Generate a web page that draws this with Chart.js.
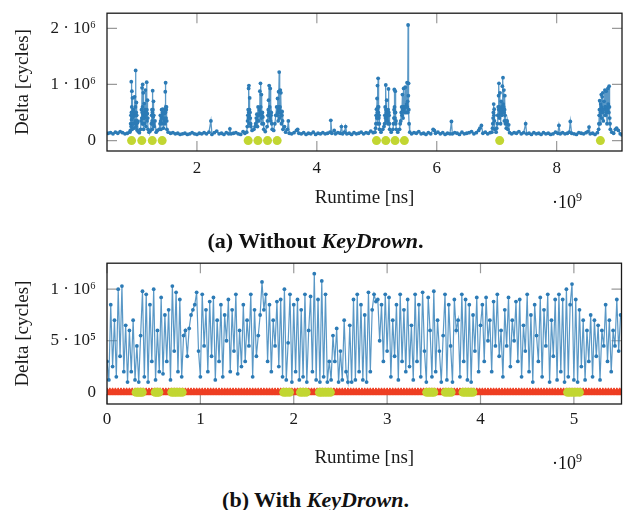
<!DOCTYPE html>
<html><head><meta charset="utf-8">
<script src="https://cdn.jsdelivr.net/npm/chart.js@4.4.1/dist/chart.umd.min.js"></script>
<style>
html,body{margin:0;padding:0;background:#fff;}
#wrap{position:relative;width:627px;height:510px;overflow:hidden;font-family:"Liberation Serif",serif;color:#111;}
canvas{position:absolute;left:0;}
.mult{position:absolute;font-size:18px;line-height:20px;white-space:nowrap;}
.mult span{font-size:12px;position:relative;top:-7px;}
.cap{position:absolute;left:2px;width:627px;text-align:center;font-weight:bold;font-size:22px;line-height:26px;white-space:nowrap;}
</style></head><body>
<div id="wrap">
<canvas id="ca" width="627" height="215" style="top:0;width:627px;height:215px"></canvas>
<canvas id="cb" width="627" height="225" style="top:250px;width:627px;height:225px"></canvas>
<div class="mult" style="left:552px;top:192px">·10<span>9</span></div>
<div class="mult" style="left:552px;top:453px">·10<span>9</span></div>
<div class="cap" style="top:228px">(a) Without <i>KeyDrown</i>.</div>
<div class="cap" style="top:487px">(b) With <i>KeyDrown</i>.</div>
</div>
<script>
// ---------- Data (x: runtime in 10^9 ns, y: delta in 10^6 cycles) ----------
// (a) Without KeyDrown
const runtimeA = [
 0.52,0.56,0.60,0.64,0.68,0.72,0.76,0.80,0.84,0.88,
 // burst group 1
 0.890,0.895,0.900,0.903,0.905,0.908,0.910,0.913,0.915,0.918,
 0.920,0.923,0.925,0.928,0.930,0.935,0.940,0.945,0.950,0.955,
 0.960,0.965,0.970,0.974,0.978,0.981,0.983,0.987,0.990,0.993,
 0.995,1.000,1.005,1.010,1.020,1.040,1.060,1.068,1.075,1.080,
 1.085,1.088,1.090,1.093,1.095,1.098,1.100,1.103,1.105,1.108,
 1.110,1.115,1.120,1.125,1.130,1.135,1.140,1.145,1.150,1.156,
 1.162,1.165,1.168,1.172,1.175,1.180,1.185,1.200,1.220,1.240,
 1.245,1.250,1.253,1.255,1.258,1.262,1.266,1.270,1.273,1.275,
 1.280,1.285,1.300,1.320,1.340,1.370,1.385,1.390,1.395,1.400,
 1.405,1.410,1.415,1.420,1.425,1.430,1.435,1.440,1.448,1.455,
 1.460,1.465,1.468,1.472,1.475,1.478,1.482,1.485,1.488,1.492,
 1.496,1.500,1.520,
 // quiet
 1.56,1.60,1.64,1.68,1.72,1.76,1.80,1.84,1.88,1.92,
 1.96,2.00,2.04,2.08,2.12,2.16,2.20,2.233,2.25,2.29,
 2.33,2.37,2.41,2.45,2.49,2.53,2.55,2.57,2.61,2.65,
 2.69,2.73,2.77,2.80,
 // burst group 2
 2.830,2.840,2.845,2.850,2.855,2.858,2.862,2.865,2.867,2.870,
 2.872,2.876,2.880,2.885,2.890,2.895,2.900,2.920,2.950,2.970,
 2.980,2.990,3.000,3.005,3.010,3.015,3.020,3.028,3.035,3.042,
 3.050,3.055,3.060,3.064,3.067,3.071,3.075,3.080,3.085,3.092,
 3.100,3.108,3.115,3.140,3.170,3.178,3.185,3.190,3.195,3.200,
 3.205,3.210,3.215,3.218,3.222,3.226,3.230,3.235,3.240,3.248,
 3.255,3.280,3.300,3.315,3.330,3.338,3.345,3.350,3.355,3.358,
 3.362,3.366,3.372,3.376,3.380,3.385,3.390,3.395,3.400,3.405,
 3.410,3.415,3.420,3.428,3.435,3.460,3.480,3.510,3.525,3.540,
 // quiet
 3.58,3.62,3.66,3.68,3.70,3.74,3.78,3.82,3.86,3.90,
 3.94,3.98,4.02,4.06,4.10,4.14,4.18,4.22,4.233,4.25,
 4.29,4.31,4.35,4.39,4.41,4.43,4.46,4.48,4.50,4.54,
 4.58,4.62,4.66,4.70,4.74,4.78,4.82,4.86,4.90,4.94,
 // burst group 3
 4.970,4.980,4.985,4.990,4.995,5.000,5.005,5.008,5.012,5.015,
 5.018,5.020,5.022,5.026,5.030,5.034,5.038,5.042,5.045,5.070,
 5.100,5.120,5.130,5.135,5.140,5.145,5.150,5.154,5.158,5.162,
 5.165,5.170,5.175,5.180,5.185,5.190,5.195,5.200,5.205,5.210,
 5.215,5.240,5.270,5.278,5.285,5.288,5.292,5.296,5.300,5.304,
 5.308,5.312,5.315,5.320,5.325,5.350,5.380,5.390,5.400,5.408,
 5.415,5.420,5.428,5.433,5.438,5.443,5.448,5.454,5.460,5.467,
 5.475,5.482,5.490,5.497,5.505,5.510,5.515,5.518,5.522,5.526,
 5.530,5.534,5.538,5.550,
 // quiet
 5.58,5.62,5.66,5.70,5.74,5.78,5.82,5.86,5.90,5.94,
 5.96,5.98,6.02,6.06,6.10,6.14,6.18,6.22,6.245,6.26,
 6.30,6.34,6.38,6.42,6.46,6.50,6.54,6.58,6.62,6.66,
 6.70,6.72,6.745,6.77,6.81,6.85,6.89,
 // burst group 4
 6.920,6.930,6.935,6.940,6.945,6.950,6.954,6.958,6.962,6.965,
 6.990,7.000,7.010,7.018,7.025,7.028,7.032,7.035,7.038,7.041,
 7.045,7.050,7.055,7.060,7.065,7.070,7.075,7.080,7.085,7.090,
 7.095,7.100,7.105,7.108,7.112,7.116,7.120,7.124,7.128,7.132,
 7.135,7.140,7.145,7.152,7.160,7.168,7.175,7.185,7.200,7.215,
 // quiet
 7.25,7.29,7.33,7.37,7.41,7.45,7.483,7.50,7.54,7.58,
 7.62,7.66,7.70,7.74,7.78,7.82,7.86,7.90,7.94,7.98,
 8.02,8.038,8.06,8.10,8.14,8.18,8.21,8.228,8.25,8.29,
 8.33,8.37,8.41,8.45,8.49,8.52,8.54,8.56,8.60,8.64,
 8.68,
 // burst group 5
 8.700,8.705,8.710,8.714,8.718,8.722,8.725,8.730,8.735,8.740,
 8.745,8.748,8.752,8.756,8.760,8.765,8.770,8.774,8.778,8.784,
 8.790,8.798,8.805,8.808,8.812,8.818,8.825,8.832,8.840,8.848,
 8.855,8.860,8.865,8.870,8.875,8.880,8.885,8.890,8.895,8.92,
 8.95,8.98,9.00,9.03,9.06,9.09
];
const deltaA = [
 0.13,0.14,0.12,0.15,0.13,0.16,0.14,0.12,0.13,0.15,
 // burst group 1
 0.18,0.30,0.45,0.25,1.05,0.50,0.37,0.60,0.88,0.40,
 0.20,0.50,0.76,0.45,0.30,0.42,0.55,0.30,0.22,0.45,
 0.78,0.50,0.35,0.60,1.25,0.45,0.25,0.50,0.68,0.30,
 0.45,0.19,0.35,0.32,0.16,0.14,0.20,0.35,0.55,0.40,
 0.94,0.50,0.30,0.60,1.00,0.40,0.48,0.30,0.85,0.45,
 0.20,0.50,0.66,0.40,0.30,0.55,0.90,0.45,0.25,0.50,
 1.04,0.55,0.35,0.48,0.72,0.40,0.20,0.15,0.17,0.30,
 0.45,0.55,0.35,0.20,0.50,0.89,0.55,0.42,0.30,0.70,
 0.45,0.25,0.35,0.15,0.18,0.20,0.30,0.45,0.35,0.20,
 0.40,0.55,0.45,0.30,0.50,0.56,0.40,0.22,0.40,0.48,
 0.35,0.30,0.55,0.87,0.50,1.03,0.60,0.40,0.55,0.60,
 0.35,0.20,0.15,
 // quiet
 0.13,0.14,0.12,0.13,0.11,0.12,0.13,0.11,0.12,0.14,
 0.12,0.11,0.13,0.12,0.14,0.12,0.15,0.35,0.11,0.14,
 0.17,0.12,0.13,0.11,0.14,0.12,0.21,0.12,0.13,0.14,
 0.12,0.11,0.16,0.13,
 // burst group 2
 0.15,0.25,0.35,0.45,0.55,0.40,0.93,0.50,0.98,0.45,
 0.30,0.55,0.76,0.50,0.40,0.30,0.25,0.18,0.20,0.25,
 0.30,0.40,0.47,0.35,0.25,0.45,0.60,0.45,0.35,0.55,
 0.88,0.50,1.02,0.60,0.50,0.40,0.82,0.45,0.30,0.50,
 0.42,0.30,0.20,0.16,0.25,0.35,0.45,0.55,0.72,0.50,
 0.98,0.45,0.60,0.40,0.93,0.50,0.35,0.45,0.50,0.30,
 0.20,0.18,0.30,0.45,0.60,0.45,0.75,0.50,0.35,0.55,
 0.87,0.60,1.22,0.55,0.40,0.60,0.90,0.50,0.85,0.45,
 0.30,0.45,0.52,0.35,0.20,0.25,0.15,0.20,0.35,0.13,
 // quiet
 0.12,0.14,0.18,0.20,0.13,0.12,0.14,0.11,0.13,0.12,
 0.15,0.11,0.13,0.12,0.14,0.12,0.13,0.15,0.36,0.13,
 0.18,0.12,0.14,0.13,0.25,0.12,0.15,0.25,0.12,0.13,
 0.11,0.14,0.12,0.13,0.15,0.12,0.14,0.13,0.17,0.14,
 // burst group 3
 0.15,0.22,0.30,0.45,0.56,0.40,0.75,0.50,0.98,0.55,
 0.30,0.60,1.11,0.50,0.60,0.40,0.45,0.30,0.20,0.15,
 0.20,0.25,0.30,0.45,0.60,0.40,0.99,0.55,0.35,0.50,
 0.72,0.40,0.45,0.35,0.30,0.55,0.92,0.50,0.45,0.30,
 0.20,0.15,0.20,0.30,0.40,0.55,0.91,0.60,0.50,0.40,
 0.88,0.50,0.30,0.35,0.20,0.15,0.20,0.30,0.35,0.50,
 0.60,0.45,0.82,0.55,0.40,0.60,0.93,0.55,0.60,0.50,
 0.95,0.60,0.50,0.65,1.03,0.60,0.70,0.50,2.06,0.80,
 1.02,0.55,0.30,0.15,
 // quiet
 0.12,0.14,0.13,0.16,0.12,0.13,0.11,0.14,0.12,0.20,
 0.18,0.13,0.15,0.12,0.14,0.11,0.13,0.12,0.34,0.12,
 0.14,0.13,0.11,0.15,0.12,0.13,0.14,0.16,0.12,0.14,
 0.18,0.22,0.27,0.13,0.15,0.12,0.14,
 // burst group 4
 0.15,0.22,0.30,0.40,0.50,0.65,0.45,0.56,0.35,0.20,
 0.15,0.22,0.30,0.45,0.60,0.45,0.80,0.55,1.02,0.60,
 0.40,0.55,0.85,0.50,0.30,0.50,0.70,0.55,0.45,0.60,
 0.97,0.60,1.12,0.65,0.50,0.60,0.90,0.50,0.35,0.55,
 0.80,0.45,0.30,0.35,0.22,0.30,0.35,0.20,0.28,0.14,
 // quiet
 0.12,0.14,0.13,0.16,0.12,0.14,0.30,0.12,0.13,0.11,
 0.14,0.12,0.13,0.11,0.14,0.12,0.13,0.11,0.12,0.15,
 0.13,0.27,0.12,0.14,0.12,0.13,0.15,0.34,0.13,0.12,
 0.11,0.14,0.13,0.12,0.14,0.16,0.24,0.12,0.13,0.11,
 0.14,
 // burst group 5
 0.20,0.30,0.45,0.55,0.71,0.45,0.30,0.50,0.65,0.55,
 0.82,0.60,0.40,0.55,0.78,0.55,0.85,0.50,0.35,0.55,
 0.70,0.55,0.90,0.60,0.45,0.60,0.88,0.50,0.30,0.55,
 0.93,0.65,0.60,0.50,0.97,0.60,0.40,0.30,0.20,0.15,
 0.13,0.20,0.22,0.18,0.12,0.10
];
// key presses (a)
const keysA = [0.91,1.08,1.255,1.42,2.855,3.017,3.178,3.338,4.995,5.15,5.305,5.46,7.05,8.73];

// (b) With KeyDrown
const runtimeB = [
 0.00,0.02,0.04,0.06,0.08,0.10,0.12,0.14,0.16,0.18,0.20,
 0.22,0.24,0.26,0.28,0.30,0.32,0.34,0.36,0.38,0.40,
 0.42,0.44,0.46,0.48,0.50,0.52,0.54,0.56,0.58,0.60,
 0.62,0.64,0.66,0.68,0.70,0.72,0.74,0.76,0.78,0.80,
 0.82,0.84,0.86,0.88,0.90,0.92,0.94,0.96,0.98,1.00,
 1.02,1.04,1.06,1.08,1.10,1.12,1.14,1.16,1.18,1.20,
 1.22,1.24,1.26,1.28,1.30,1.32,1.34,1.36,1.38,1.40,
 1.42,1.44,1.46,1.48,1.50,1.52,1.54,1.56,1.58,1.60,
 1.62,1.64,1.66,1.68,1.70,1.72,1.74,1.76,1.78,1.80,
 1.82,1.84,1.86,1.88,1.90,1.92,1.94,1.96,1.98,2.00,
 2.02,2.04,2.06,2.08,2.10,2.12,2.14,2.16,2.18,2.20,
 2.22,2.24,2.26,2.28,2.30,2.32,2.34,2.36,2.38,2.40,
 2.42,2.44,2.46,2.48,2.50,2.52,2.54,2.56,2.58,2.60,
 2.62,2.64,2.66,2.68,2.70,2.72,2.74,2.76,2.78,2.80,
 2.82,2.84,2.86,2.88,2.90,2.92,2.94,2.96,2.98,3.00,
 3.02,3.04,3.06,3.08,3.10,3.12,3.14,3.16,3.18,3.20,
 3.22,3.24,3.26,3.28,3.30,3.32,3.34,3.36,3.38,3.40,
 3.42,3.44,3.46,3.48,3.50,3.52,3.54,3.56,3.58,3.60,
 3.62,3.64,3.66,3.68,3.70,3.72,3.74,3.76,3.78,3.80,
 3.82,3.84,3.86,3.88,3.90,3.92,3.94,3.96,3.98,4.00,
 4.02,4.04,4.06,4.08,4.10,4.12,4.14,4.16,4.18,4.20,
 4.22,4.24,4.26,4.28,4.30,4.32,4.34,4.36,4.38,4.40,
 4.42,4.44,4.46,4.48,4.50,4.52,4.54,4.56,4.58,4.60,
 4.62,4.64,4.66,4.68,4.70,4.72,4.74,4.76,4.78,4.80,
 4.82,4.84,4.86,4.88,4.90,4.92,4.94,4.96,4.98,5.00,
 5.02,5.04,5.06,5.08,5.10,5.12,5.14,5.16,5.18,5.20,
 5.22,5.24,5.26,5.28,5.30,5.32,5.34,5.36,5.38,5.40,
 5.42,5.44,5.46,5.48,5.50
];
const deltaB = [
 0.30,0.12,0.85,0.25,0.70,0.15,1.00,0.35,1.03,0.20,0.65,
 0.10,0.60,0.20,0.70,0.12,0.45,0.10,0.55,0.98,0.15,
 0.95,0.10,0.85,0.30,1.00,0.12,0.60,0.20,0.92,0.18,
 0.75,0.30,0.80,0.12,1.03,0.40,0.97,0.20,0.90,0.15,
 0.55,0.60,0.35,0.62,0.75,0.80,0.85,0.97,0.40,0.15,
 0.95,0.45,0.80,0.20,0.88,0.35,0.92,0.12,0.70,0.30,
 0.85,0.15,0.75,0.50,0.90,0.20,0.80,0.40,0.95,0.18,
 0.60,0.25,0.85,0.30,0.70,0.45,0.95,0.15,0.80,0.35,
 0.55,0.75,1.07,0.80,0.95,0.30,0.85,0.20,0.70,0.45,
 0.88,0.25,0.90,0.15,1.00,0.12,0.48,0.95,0.10,0.85,
 0.20,0.90,0.12,0.80,0.15,0.95,0.10,0.60,0.93,0.20,
 1.15,0.12,0.90,0.10,1.08,0.15,0.95,0.10,0.30,0.12,
 0.55,0.30,0.62,0.10,0.40,0.12,0.70,0.20,0.10,0.65,
 0.10,0.90,0.12,0.95,0.20,0.85,0.12,0.75,0.10,0.97,
 0.20,0.80,0.95,0.88,0.90,0.50,0.85,0.30,0.95,0.40,
 0.92,0.15,0.70,0.35,0.85,0.12,0.95,0.30,0.80,0.20,
 0.90,0.25,0.65,0.12,0.95,0.30,0.85,0.15,0.97,0.40,
 0.10,0.92,0.60,0.15,0.98,0.20,0.70,0.40,0.10,0.55,
 0.95,0.12,0.85,0.45,0.10,0.90,0.60,0.70,0.15,0.95,
 0.30,0.90,0.12,0.85,0.10,0.75,0.40,0.92,0.20,0.65,
 0.85,0.30,0.92,0.50,0.70,0.20,0.88,0.45,0.95,0.35,
 0.60,0.15,0.80,0.45,0.92,0.25,0.70,0.50,0.88,0.30,
 0.90,0.15,0.65,0.40,0.95,0.20,0.75,0.10,0.85,0.55,
 0.30,0.92,0.15,0.80,0.45,0.95,0.10,0.70,0.35,0.90,
 0.12,0.95,0.20,0.90,0.10,1.00,0.15,0.85,1.05,0.12,
 0.90,0.10,0.80,0.25,0.70,0.12,0.60,0.30,0.75,0.15,
 0.70,0.35,0.65,0.12,0.60,0.45,0.85,0.30,0.70,0.20,
 0.60,0.45,0.90,0.40,0.75
];
// injected (fake) interrupts, drawn at level 0
const injectedB = [
 0.00,0.03,0.06,0.09,0.12,0.15,0.18,0.21,0.24,0.27,
 0.30,0.33,0.36,0.39,0.42,0.45,0.48,0.51,0.54,0.57,
 0.60,0.63,0.66,0.69,0.72,0.75,0.78,0.81,0.84,0.87,
 0.90,0.93,0.96,0.99,1.02,1.05,1.08,1.11,1.14,1.17,
 1.20,1.23,1.26,1.29,1.32,1.35,1.38,1.41,1.44,1.47,
 1.50,1.53,1.56,1.59,1.62,1.65,1.68,1.71,1.74,1.77,
 1.80,1.83,1.86,1.89,1.92,1.95,1.98,2.01,2.04,2.07,
 2.10,2.13,2.16,2.19,2.22,2.25,2.28,2.31,2.34,2.37,
 2.40,2.43,2.46,2.49,2.52,2.55,2.58,2.61,2.64,2.67,
 2.70,2.73,2.76,2.79,2.82,2.85,2.88,2.91,2.94,2.97,
 3.00,3.03,3.06,3.09,3.12,3.15,3.18,3.21,3.24,3.27,
 3.30,3.33,3.36,3.39,3.42,3.45,3.48,3.51,3.54,3.57,
 3.60,3.63,3.66,3.69,3.72,3.75,3.78,3.81,3.84,3.87,
 3.90,3.93,3.96,3.99,4.02,4.05,4.08,4.11,4.14,4.17,
 4.20,4.23,4.26,4.29,4.32,4.35,4.38,4.41,4.44,4.47,
 4.50,4.53,4.56,4.59,4.62,4.65,4.68,4.71,4.74,4.77,
 4.80,4.83,4.86,4.89,4.92,4.95,4.98,5.01,5.04,5.07,
 5.10,5.13,5.16,5.19,5.22,5.25,5.28,5.31,5.34,5.37,
 5.40,5.43,5.46,5.49,5.51
];
// key presses (b)
const keysB = [
 0.312,0.335,0.355,0.377, 0.516,0.535,0.555, 0.694,0.720,0.745,0.775,0.805,
 1.893,1.920,1.954, 2.072,2.100,2.132, 2.275,2.300,2.330,2.360,2.392,
 3.424,3.450,3.475,3.499, 3.624,3.655,3.685, 3.814,3.840,3.865,3.890,3.917,
 4.933,4.960,4.990,5.020,5.059
];
const markerLevel = 0;

// ticks
const xTicksA = [2,4,6,8];
const yTicksA = [0,1,2];
const yTickLabelsA = ['0','1 · 10⁶','2 · 10⁶'];
const xTicksB = [0,1,2,3,4,5];
const yTicksB = [0,0.5,1];
const yTickLabelsB = ['0','5 · 10⁵','1 · 10⁶'];

// ---------- Styling ----------
const BLUE='#2c7bb6', BLUE_LINE='rgba(44,123,182,0.78)', GREEN='#c2d632', RED='#ee3e22';
const FONT='"Liberation Serif", serif';
Chart.defaults.font.family = FONT;
Chart.defaults.color = '#1a1a1a';

const pairs = (xs, ys) => xs.map((x,i)=>({x, y: ys[i]}));
const level = (xs) => xs.map(x=>({x, y: markerLevel}));

const framePlugin = {
  id:'frame',
  beforeDatasetsDraw(chart){
    const {ctx, chartArea:a, scales:{x,y}} = chart;
    const L = 10;
    ctx.save(); ctx.strokeStyle='#9a9a9a'; ctx.lineWidth=1.2; ctx.beginPath();
    x.ticks.forEach(t=>{const p=x.getPixelForValue(t.value);
      ctx.moveTo(p,a.top); ctx.lineTo(p,a.top+L); ctx.moveTo(p,a.bottom); ctx.lineTo(p,a.bottom-L);});
    y.ticks.forEach(t=>{const p=y.getPixelForValue(t.value);
      ctx.moveTo(a.left,p); ctx.lineTo(a.left+L,p); ctx.moveTo(a.right,p); ctx.lineTo(a.right-L,p);});
    ctx.stroke(); ctx.restore();
  },
  afterDatasetsDraw(chart){
    const {ctx, chartArea:a} = chart;
    ctx.save(); ctx.strokeStyle='#1a1a1a'; ctx.lineWidth=1.3;
    ctx.strokeRect(a.left, a.top, a.right-a.left, a.bottom-a.top);
    ctx.restore();
  }
};

function makeChart(id, cfg){
  const ds = [
    {data: pairs(cfg.xs, cfg.ys), borderColor: BLUE_LINE, borderWidth: cfg.lineW, pointRadius: 1.9,
     pointBackgroundColor: BLUE, pointBorderWidth: 0, tension: 0, showLine: true},
    {data: level(cfg.keys), showLine: false, pointRadius: 4.5, pointBackgroundColor: GREEN,
     pointBorderColor: GREEN, pointBorderWidth: 0}
  ];
  if (cfg.injected) ds.push({data: level(cfg.injected), showLine:false, pointStyle:'triangle',
     pointRadius: 4.5, pointBackgroundColor: RED, pointBorderColor: RED, pointBorderWidth: 1});
  return new Chart(document.getElementById(id), {
    type: 'line',
    data: {datasets: ds},
    plugins: [framePlugin],
    options: {
      responsive:false, animation:false, devicePixelRatio:1,
      layout:{padding:{top:cfg.padTop, right:5, left:0, bottom:0}},
      plugins:{legend:{display:false}, tooltip:{enabled:false}},
      scales:{
        x:{type:'linear', min:cfg.xmin, max:cfg.xmax,
           grid:{display:false}, border:{display:false},
           afterBuildTicks: s => { s.ticks = cfg.xTicks.map(v=>({value:v})); },
           afterFit: s => { s.height = cfg.xAxisH; },
           ticks:{autoSkip:false, maxRotation:0, padding:cfg.xTickPad, font:{size:17}, callback: v => String(v)},
           title:{display:true, text:'Runtime [ns]', font:{size:19}, padding:{top:0,bottom:6}}},
        y:{type:'linear', min:cfg.ymin, max:cfg.ymax,
           grid:{display:false}, border:{display:false},
           afterBuildTicks: s => { s.ticks = cfg.yTicks.map(v=>({value:v})); },
           afterFit: s => { s.width = 107; },
           ticks:{padding:3, font:{size:17}, callback: v => cfg.yLabels[cfg.yTicks.indexOf(v)]},
           title:{display:true, text:'Delta [cycles]', font:{size:19}, padding:{top:12,bottom:0}}}
      }
    }
  });
}

makeChart('ca', {xs: runtimeA, ys: deltaA, keys: keysA, xmin:0.5, xmax:9.09, ymin:-0.186, ymax:2.27,
  xTicks:xTicksA, yTicks:yTicksA, yLabels:yTickLabelsA, padTop:6, xAxisH:64, xTickPad:-1, lineW:1.3});
makeChart('cb', {xs: runtimeB, ys: deltaB, keys: keysB, injected: injectedB, xmin:0, xmax:5.51,
  ymin:-0.113, ymax:1.252, xTicks:xTicksB, yTicks:yTicksB, yLabels:yTickLabelsB, padTop:9, xAxisH:71, xTickPad:-3, lineW:1.2});
</script>
</body></html>
